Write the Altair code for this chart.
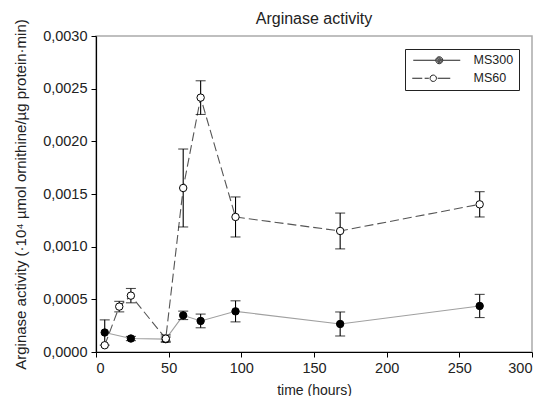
import altair as alt
import pandas as pd

series_names = ["MS300", "MS60"]

time_ms300 = [6, 24, 48, 60, 72, 96, 168, 264]
val_ms300 = [0.000185, 0.000128, 0.000122, 0.000348, 0.000295, 0.000386, 0.000266, 0.000437]
err_ms300 = [0.00012, 0.00002, 0.00002, 0.00004, 0.000065, 0.0001, 0.000114, 0.00011]

time_ms60 = [6, 16, 24, 48, 60, 72, 96, 168, 264]
val_ms60 = [0.000064, 0.000431, 0.000535, 0.000127, 0.001557, 0.002415, 0.001282, 0.001149, 0.001402]
err_ms60 = [0.0, 0.00005, 0.000068, 0.000035, 0.00037, 0.00016, 0.00019, 0.00017, 0.00012]

y_ticks = [0, 0.0005, 0.001, 0.0015, 0.002, 0.0025, 0.003]
x_ticks = [0, 50, 100, 150, 200, 250, 300]

rows = []
for t, v, e in zip(time_ms300, val_ms300, err_ms300):
    rows.append({"series": "MS300", "time": t, "value": v, "lo": v - e, "hi": v + e, "err": e})
for t, v, e in zip(time_ms60, val_ms60, err_ms60):
    rows.append({"series": "MS60", "time": t, "value": v, "lo": v - e, "hi": v + e, "err": e})
df = pd.DataFrame(rows)

FONT = "Liberation Sans"

x_enc = alt.X("time:Q", scale=alt.Scale(domain=[0, 300], nice=False),
              axis=alt.Axis(values=x_ticks, title="time (hours)", grid=False,
                            labelFontSize=14.5, titleFontSize=14, titlePadding=9,
                            labelPadding=4))
y_enc = alt.Y("value:Q", scale=alt.Scale(domain=[0, 0.003], nice=False),
              axis=alt.Axis(values=y_ticks, grid=False,
                            title="Arginase activity (\u00b710\u2074 \u00b5mol ornithine/\u00b5g protein\u00b7min)",
                            labelExpr="replace(format(datum.value, '.4f'), '.', ',')",
                            labelFontSize=14.5, titleFontSize=15, titlePadding=14,
                            labelPadding=4))

base = alt.Chart(df)
b300 = base.transform_filter("datum.series === 'MS300'")
b60 = base.transform_filter("datum.series === 'MS60'")

line300 = b300.mark_line(strokeWidth=1.1, color="#a0a0a0").encode(x=x_enc, y=y_enc)
line60 = b60.mark_line(strokeWidth=1.1, color="#555555", strokeDash=[9, 4]).encode(x="time:Q", y="value:Q")

err_base = base.transform_filter("datum.err > 0")
rules = err_base.mark_rule(color="black", strokeWidth=1.1).encode(
    x="time:Q", y="lo:Q", y2="hi:Q")
caps_hi = err_base.mark_tick(color="black", orient="horizontal", size=10, thickness=1.1).encode(
    x="time:Q", y="hi:Q")
caps_lo = err_base.mark_tick(color="black", orient="horizontal", size=10, thickness=1.1).encode(
    x="time:Q", y="lo:Q")

pts300 = b300.mark_circle(size=55, fill="black", stroke="black", strokeWidth=1, opacity=1).encode(
    x="time:Q", y="value:Q")
pts60 = b60.mark_circle(size=55, fill="white", stroke="black", strokeWidth=1, opacity=1).encode(
    x="time:Q", y="value:Q")


def ring(cx, r):
    return "M{a},0A{r},{r},0,1,1,{b},0A{r},{r},0,1,1,{a},0Z".format(a=cx + r, b=cx - r, r=r)


# legend glyphs (stroke only): line + solid disc (concentric rings) / dashed line + open circle
p300 = "M-5.75,0H-0.125M1.625,0H6" + "".join(ring(0.75, r) for r in [0.875, 0.62, 0.37, 0.14])
p60 = "M-6,0H-3.5M-2.9,0H-1.85M0.35,0H3.5" + ring(-0.75, 0.8)

legend_layer = base.transform_calculate(off="-1").mark_point(
    filled=False, color="#222222", strokeWidth=1, opacity=1, clip=True
).encode(
    x="time:Q", y="off:Q",
    shape=alt.Shape("series:N", scale=alt.Scale(domain=series_names, range=[p300, p60]),
                    legend=alt.Legend(
                        title=None, orient="top-right", offset=13,
                        strokeColor="#222222", fillColor="white", padding=5,
                        symbolSize=64, symbolStrokeWidth=1, symbolStrokeColor="#222222",
                        symbolOffset=20, labelOffset=31, rowPadding=5,
                        labelFontSize=12.5, labelFont=FONT, labelColor="#222222")),
)

chart = alt.layer(line300, line60, rules, caps_hi, caps_lo, pts300, pts60, legend_layer).properties(
    width=436, height=316,
    title=alt.TitleParams("Arginase activity", fontSize=16, fontWeight="normal", font=FONT,
                          color="#222222", offset=9, dy=17, frame="group"),
    autosize=alt.AutoSizeParams(type="none"),
    padding={"left": 88, "top": 28, "right": 6, "bottom": 44},
).configure_view(
    stroke="#aaaaaa", strokeWidth=1.5
).configure_axis(
    domainColor="black", tickColor="black", tickSize=5, labelColor="#222222",
    titleColor="#222222", labelFont=FONT, titleFont=FONT, titleFontWeight="normal",
    domainWidth=1.2,
)

chart.save("out.html", embed_options={"renderer": "svg", "actions": False})
